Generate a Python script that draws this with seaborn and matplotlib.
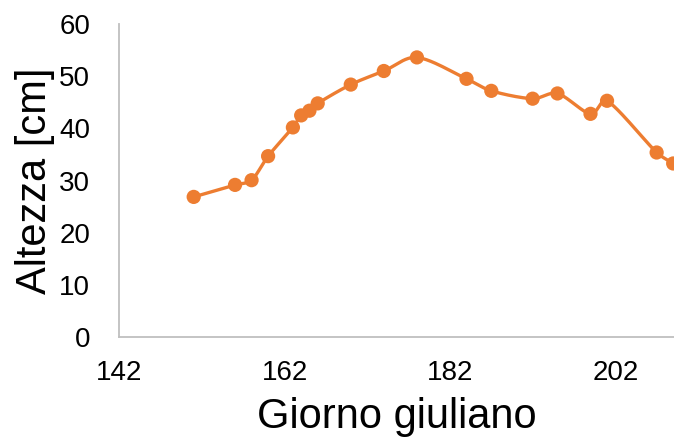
import numpy as np
import pandas as pd
import matplotlib
matplotlib.use("Agg")
import matplotlib.pyplot as plt
import seaborn as sns

# Plant height measurements by Julian day
giorno = [151, 156, 158, 160, 163, 164, 165, 166, 170, 174, 178,
          184, 187, 192, 195, 199, 201, 207, 209]
altezza = [26.9, 29.2, 30.1, 34.7, 40.2, 42.5, 43.4, 44.8, 48.4, 51.0, 53.6,
           49.5, 47.2, 45.7, 46.7, 42.8, 45.3, 35.4, 33.3]
x_ticks = [142, 162, 182, 202]
y_ticks = [0, 10, 20, 30, 40, 50, 60]

ORANGE = "#ED7D31"
GRID_GREY = "#BFBFBF"

sns.set_theme(style="white")
plt.rcParams["font.family"] = ["Liberation Sans", "DejaVu Sans"]

df = pd.DataFrame({"giorno": giorno, "altezza": altezza})


def smooth_curve(x, y, sx=8.27, sy=5.22, n=24):
    """Bezier smoothing (Catmull-Rom tangents, capped by the segment length)."""
    P = np.column_stack([np.asarray(x, float) * sx, np.asarray(y, float) * sy])
    m = len(P)
    tang = np.array([(P[min(i + 1, m - 1)] - P[max(i - 1, 0)]) / 6
                     for i in range(m)])

    def capped(v, L):
        n_ = np.hypot(*v)
        lim = L / 3
        return v if n_ <= lim else v * lim / n_

    t = np.linspace(0, 1, n, endpoint=False)[:, None]
    pts = []
    for i in range(m - 1):
        p0, p3 = P[i], P[i + 1]
        L = np.hypot(*(p3 - p0))
        p1 = p0 + capped(tang[i], L)
        p2 = p3 - capped(tang[i + 1], L)
        seg = ((1 - t) ** 3 * p0 + 3 * (1 - t) ** 2 * t * p1
               + 3 * (1 - t) * t ** 2 * p2 + t ** 3 * p3)
        pts.append(seg)
    pts.append(P[-1:])
    pts = np.vstack(pts)
    return pts[:, 0] / sx, pts[:, 1] / sy


cx, cy = smooth_curve(df["giorno"], df["altezza"])
curve = pd.DataFrame({"giorno": cx, "altezza": cy})

fig = plt.figure(figsize=(6.74, 4.44), dpi=100)
ax = fig.add_axes([0.177, 0.240, 0.823, 0.706])

sns.lineplot(data=curve, x="giorno", y="altezza", ax=ax, color=ORANGE,
             linewidth=2.4, sort=False, estimator=None)
sns.scatterplot(data=df, x="giorno", y="altezza", ax=ax, color=ORANGE,
                s=105, edgecolor="none", zorder=3)

ax.set_xlim(142, 209.1)
ax.set_ylim(0, 60)
ax.set_xticks(x_ticks)
ax.set_yticks(y_ticks)
ax.tick_params(axis="both", length=0, labelsize=20, colors="black")
ax.tick_params(axis="x", pad=16)
ax.tick_params(axis="y", pad=21)

ax.set_xlabel("Giorno giuliano", fontsize=30, labelpad=8, color="black")
ax.set_ylabel("Altezza [cm]", fontsize=30, labelpad=3, color="black")

for side in ("top", "right"):
    ax.spines[side].set_visible(False)
for side in ("left", "bottom"):
    ax.spines[side].set_color(GRID_GREY)
    ax.spines[side].set_linewidth(1.3)
ax.grid(False)

fig.savefig("out.png", dpi=100)
